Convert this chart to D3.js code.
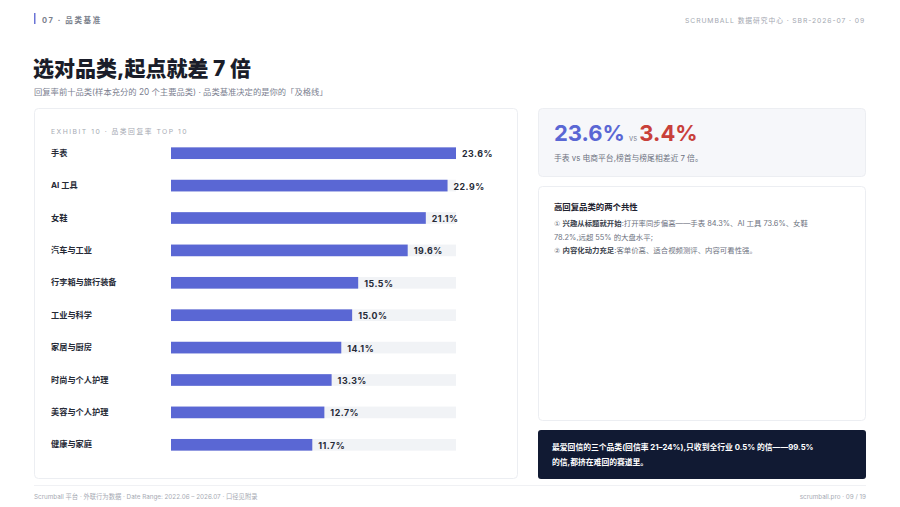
<!DOCTYPE html>
<html>
<head>
<meta charset="utf-8">
<script src="https://cdn.jsdelivr.net/npm/d3@7"></script>
<style>
  body { margin: 0; background: #fff; }
  svg { display: block; font-family: Inter, "Noto Sans CJK SC", sans-serif; }
</style>
</head>
<body>
<svg id="chart"></svg>
<script>
// data
let categories = ["手表", "AI 工具", "女鞋", "汽车与工业", "行李箱与旅行装备",
  "工业与科学", "家居与厨房", "时尚与个人护理", "美容与个人护理", "健康与家庭"];
let replyRates = [23.6, 22.9, 21.1, 19.6, 15.5, 15.0, 14.1, 13.3, 12.7, 11.7];
let kpiTop = 23.6;
let kpiBottom = 3.4;

let width = 900, height = 507;
let svg = d3.select("#chart").attr("width", width).attr("height", height);

let blue = "#5a67d4";
let ink = "#1a1d29";

// header
svg.append("rect").attr("x", 34).attr("y", 13).attr("width", 1.5).attr("height", 11).attr("fill", "#6b74d6");
svg.append("text").attr("x", 42).attr("y", 22.5).text("07 · 品类基准")
  .attr("font-size", 7.5).attr("font-weight", 700).attr("fill", "#7a7f8c").attr("letter-spacing", 1.6);
svg.append("text").attr("x", 865).attr("y", 22.5).attr("text-anchor", "end")
  .text("SCRUMBALL 数据研究中心 · SBR-2026-07 · 09")
  .attr("font-size", 6.8).attr("fill", "#a3a7b0").attr("letter-spacing", 0.9);

svg.append("text").attr("x", 33).attr("y", 76).text("选对品类,起点就差 7 倍")
  .attr("font-size", 21).attr("font-weight", 800).attr("fill", ink);
svg.append("text").attr("x", 34).attr("y", 95)
  .text("回复率前十品类(样本充分的 20 个主要品类) · 品类基准决定的是你的「及格线」")
  .attr("font-size", 8.3).attr("fill", "#7b8090");

// left card
svg.append("rect").attr("x", 34.5).attr("y", 108.5).attr("width", 483).attr("height", 370)
  .attr("rx", 4).attr("fill", "#fff").attr("stroke", "#eceef2");
svg.append("text").attr("x", 51).attr("y", 134).text("EXHIBIT 10 · 品类回复率 TOP 10")
  .attr("font-size", 6.8).attr("fill", "#a6aab3").attr("letter-spacing", 1.5);

let x = d3.scaleLinear().domain([0, d3.max(replyRates)]).range([171, 456]);
let y = d3.scaleBand().domain(categories).range([137, 461]).paddingInner(0.64).paddingOuter(0.32);

let rows = svg.append("g").selectAll("g").data(categories).enter().append("g");

rows.append("text").attr("x", 51).attr("y", (d) => y(d) + y.bandwidth() / 2 - 0.5)
  .attr("dominant-baseline", "central").text((d) => d)
  .attr("font-size", 8.2).attr("font-weight", 700).attr("fill", "#262a36");
rows.append("rect").attr("x", x(0)).attr("y", (d) => y(d))
  .attr("width", x.range()[1] - x(0)).attr("height", y.bandwidth()).attr("fill", "#f1f3f6");
rows.append("rect").attr("x", x(0)).attr("y", (d) => y(d))
  .attr("width", (d, i) => x(replyRates[i]) - x(0)).attr("height", y.bandwidth()).attr("fill", blue);
rows.append("text").attr("x", (d, i) => x(replyRates[i]) + 6)
  .attr("y", (d) => y(d) + y.bandwidth() / 2 + 0.5).attr("dominant-baseline", "central")
  .text((d, i) => replyRates[i].toFixed(1) + "%")
  .attr("font-size", 8.8).attr("font-weight", 700).attr("fill", "#262a36").attr("letter-spacing", 0.5);

// KPI card
svg.append("rect").attr("x", 538.5).attr("y", 108.5).attr("width", 327).attr("height", 68)
  .attr("rx", 4).attr("fill", "#f6f7fa").attr("stroke", "#eceef2");
let kpi = svg.append("text").attr("x", 554).attr("y", 141).attr("font-weight", 700);
kpi.append("tspan").text(kpiTop.toFixed(1) + "%").attr("font-size", 22).attr("fill", blue);
kpi.append("tspan").text(" vs ").attr("font-size", 7.5).attr("fill", "#8a8f9c").attr("font-weight", 400)
  .attr("dx", 2);
kpi.append("tspan").text(kpiBottom.toFixed(1) + "%").attr("font-size", 22).attr("fill", "#c8403a");
svg.append("text").attr("x", 554).attr("y", 161).text("手表 vs 电商平台,榜首与榜尾相差近 7 倍。")
  .attr("font-size", 7.8).attr("fill", "#6d7280");

// insight card
svg.append("rect").attr("x", 538.5).attr("y", 186.5).attr("width", 327).attr("height", 234)
  .attr("rx", 4).attr("fill", "#fff").attr("stroke", "#eceef2");
svg.append("text").attr("x", 554).attr("y", 210).text("高回复品类的两个共性")
  .attr("font-size", 8.4).attr("font-weight", 700).attr("fill", "#1f2330");

let insightLines = [
  [["① ", "num"], ["兴趣从标题就开始", "bold"], [":打开率同步偏高——手表 84.3%、AI 工具 73.6%、女鞋", ""]],
  [["78.2%,远超 55% 的大盘水平;", ""]],
  [["② ", "num"], ["内容化动力充足", "bold"], [":客单价高、适合视频测评、内容可看性强。", ""]],
];
insightLines.forEach((parts, i) => {
  let t = svg.append("text").attr("x", 554).attr("y", 226 + i * 13.5).attr("font-size", 7.4).attr("fill", "#6d7280");
  parts.forEach(([s, kind]) => {
    let ts = t.append("tspan").text(s)
      .attr("font-weight", kind == "bold" ? 700 : 400)
      .attr("fill", kind == "bold" ? "#3a3f4c" : "#6d7280");
    if (kind == "num") ts.attr("font-family", "'DejaVu Sans', sans-serif").attr("font-size", 7);
  });
});

// dark note
svg.append("rect").attr("x", 538).attr("y", 430).attr("width", 328).attr("height", 49)
  .attr("rx", 3).attr("fill", "#111a33");
["最爱回信的三个品类(回信率 21–24%),只收到全行业 0.5% 的信——99.5%", "的信,都挤在难回的赛道里。"]
  .forEach((s, i) => {
    svg.append("text").attr("x", 552).attr("y", 450 + i * 14.5).text(s)
      .attr("font-size", 7.8).attr("font-weight", 700).attr("fill", "#fff");
  });

// footer
svg.append("line").attr("x1", 34).attr("x2", 866).attr("y1", 485.5).attr("y2", 485.5).attr("stroke", "#f0f1f4");
svg.append("text").attr("x", 34).attr("y", 499)
  .text("Scrumball 平台 · 外联行为数据 · Date Range: 2022.06 – 2026.07 · 口径见附录")
  .attr("font-size", 6.3).attr("fill", "#a6aab3");
svg.append("text").attr("x", 866).attr("y", 499).attr("text-anchor", "end").text("scrumball.pro · 09 / 19")
  .attr("font-size", 6.3).attr("fill", "#a6aab3");
</script>
</body>
</html>
